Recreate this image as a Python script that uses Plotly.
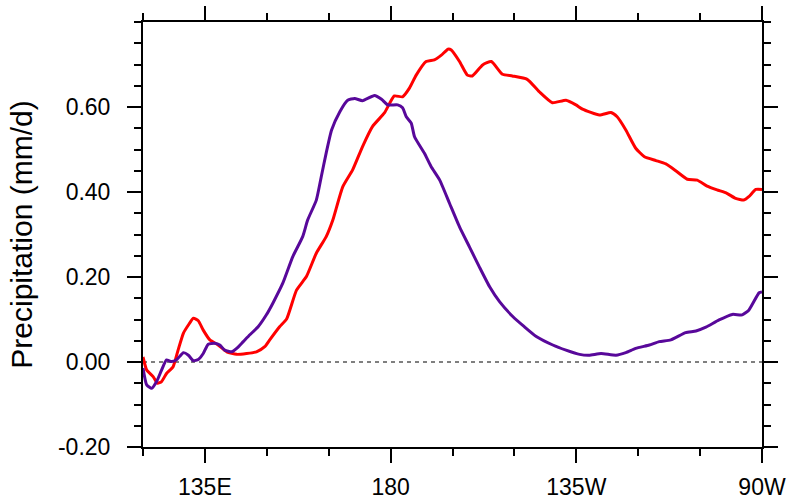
import plotly.graph_objects as go

# Longitude (degrees east) and precipitation values (mm/d)
red_lon = [120.0, 120.9, 122.5, 123.5, 124.5, 125.7, 127.3, 128.5, 129.8, 131.0, 132.2, 133.4, 134.6,
           136.2, 138.2, 140.3, 142.7, 145.1, 147.5, 149.5, 150.7, 153.1, 154.8, 157.2, 159.6, 162.0,
           164.4, 166.0, 168.4, 170.8, 173.2, 175.6, 178.5, 180.9, 182.9, 184.6, 186.2, 188.6, 190.6,
           192.3, 193.9, 194.7, 196.7, 198.6, 199.8, 202.3, 204.4, 207.1, 209.5, 213.1, 216.0, 219.2,
           222.5, 224.9, 226.5, 230.6, 233.4, 234.9, 237.0, 239.4, 241.5, 244.3, 246.7, 249.1, 251.9,
           254.3, 256.7, 259.1, 261.5, 263.6, 265.6, 266.8, 268.5, 270.0]
red_val = [0.012, -0.019, -0.035, -0.050, -0.046, -0.027, -0.011, 0.028, 0.068, 0.087, 0.103, 0.097, 0.075,
           0.052, 0.040, 0.024, 0.018, 0.020, 0.024, 0.036, 0.052, 0.083, 0.101, 0.169, 0.201, 0.256,
           0.295, 0.334, 0.412, 0.452, 0.507, 0.554, 0.586, 0.626, 0.624, 0.645, 0.675, 0.707, 0.711,
           0.722, 0.736, 0.734, 0.707, 0.675, 0.673, 0.699, 0.707, 0.677, 0.673, 0.665, 0.636, 0.610,
           0.616, 0.605, 0.595, 0.581, 0.587, 0.577, 0.546, 0.503, 0.483, 0.474, 0.466, 0.450, 0.430,
           0.428, 0.414, 0.405, 0.397, 0.385, 0.381, 0.389, 0.406, 0.406]

purple_lon = [120.0, 120.9, 122.1, 123.3, 124.5, 125.7, 126.9, 128.2, 129.8, 131.0, 132.2, 133.4, 134.6,
              135.8, 137.4, 138.6, 139.8, 141.5, 142.7, 144.3, 145.9, 147.9, 149.9, 151.5, 153.9, 156.3,
              158.7, 159.9, 162.0, 163.2, 164.4, 165.7, 167.7, 169.6, 171.3, 173.2, 176.1, 177.8, 179.3,
              181.7, 182.9, 183.8, 185.0, 185.8, 188.2, 189.8, 191.9, 194.3, 196.7, 199.1, 201.5, 204.0,
              206.4, 209.6, 212.4, 215.3, 219.3, 222.5, 225.8, 228.1, 231.0, 234.6, 237.0, 239.4, 242.7,
              245.1, 247.9, 251.5, 254.0, 256.4, 259.6, 262.8, 265.2, 266.8, 269.3, 270.0]
purple_val = [-0.014, -0.054, -0.062, -0.046, -0.019, 0.005, 0.001, 0.006, 0.022, 0.016, 0.003, 0.006, 0.020,
              0.042, 0.044, 0.040, 0.028, 0.024, 0.032, 0.048, 0.064, 0.083, 0.111, 0.139, 0.186, 0.248,
              0.295, 0.334, 0.381, 0.436, 0.492, 0.546, 0.589, 0.616, 0.620, 0.615, 0.627, 0.618, 0.605,
              0.605, 0.598, 0.577, 0.562, 0.530, 0.491, 0.460, 0.428, 0.373, 0.318, 0.271, 0.224, 0.177,
              0.142, 0.107, 0.083, 0.060, 0.040, 0.028, 0.018, 0.016, 0.020, 0.016, 0.022, 0.032, 0.040,
              0.048, 0.052, 0.069, 0.073, 0.082, 0.099, 0.112, 0.111, 0.122, 0.163, 0.165]

x_tickvals = [135, 180, 225, 270]
x_ticktext = ["135E", "180", "135W", "90W"]
y_tickvals = [-0.2, 0.0, 0.2, 0.4, 0.6]
y_ticktext = ["-0.20", "0.00", "0.20", "0.40", "0.60"]

FONT = "Liberation Sans, Arial, Helvetica, sans-serif"

fig = go.Figure()
fig.add_trace(go.Scatter(x=red_lon, y=red_val, mode="lines",
                         line=dict(color="#FF0000", width=3, shape="spline", smoothing=0.5),
                         showlegend=False, hoverinfo="skip"))
fig.add_trace(go.Scatter(x=purple_lon, y=purple_val, mode="lines",
                         line=dict(color="#58089A", width=3, shape="spline", smoothing=0.5),
                         showlegend=False, hoverinfo="skip"))

fig.add_shape(type="line", xref="paper", x0=0, x1=1, yref="y", y0=0, y1=0,
              line=dict(color="black", width=1, dash="4px,4px"), layer="below")

fig.update_layout(
    width=788, height=504,
    margin=dict(l=143, r=26, t=22, b=57, pad=0),
    paper_bgcolor="white", plot_bgcolor="white",
    font=dict(family=FONT, color="black", size=23),
)
fig.update_xaxes(
    range=[120, 270], showgrid=False, zeroline=False, automargin=False,
    showline=True, linecolor="black", linewidth=2, mirror="ticks",
    tickmode="array", tickvals=x_tickvals, ticktext=x_ticktext,
    ticks="outside", ticklen=14, tickwidth=2, tickcolor="black",
    ticklabelstandoff=4, tickfont=dict(size=23),
    minor=dict(tickmode="linear", tick0=120, dtick=15, ticks="outside",
               ticklen=7, tickwidth=1.5, tickcolor="black", showgrid=False),
)
fig.update_yaxes(
    range=[-0.2, 0.8], showgrid=False, zeroline=False, automargin=False,
    showline=True, linecolor="black", linewidth=2, mirror="ticks",
    tickmode="array", tickvals=y_tickvals, ticktext=y_ticktext,
    ticks="outside", ticklen=14, tickwidth=2, tickcolor="black",
    ticklabelstandoff=12, tickfont=dict(size=23),
    minor=dict(tickmode="linear", tick0=-0.2, dtick=0.05, ticks="outside",
               ticklen=7, tickwidth=1.5, tickcolor="black", showgrid=False),
    title=dict(text="Precipitation (mm/d)", font=dict(size=30), standoff=16),
)

fig.write_html("out.html")
